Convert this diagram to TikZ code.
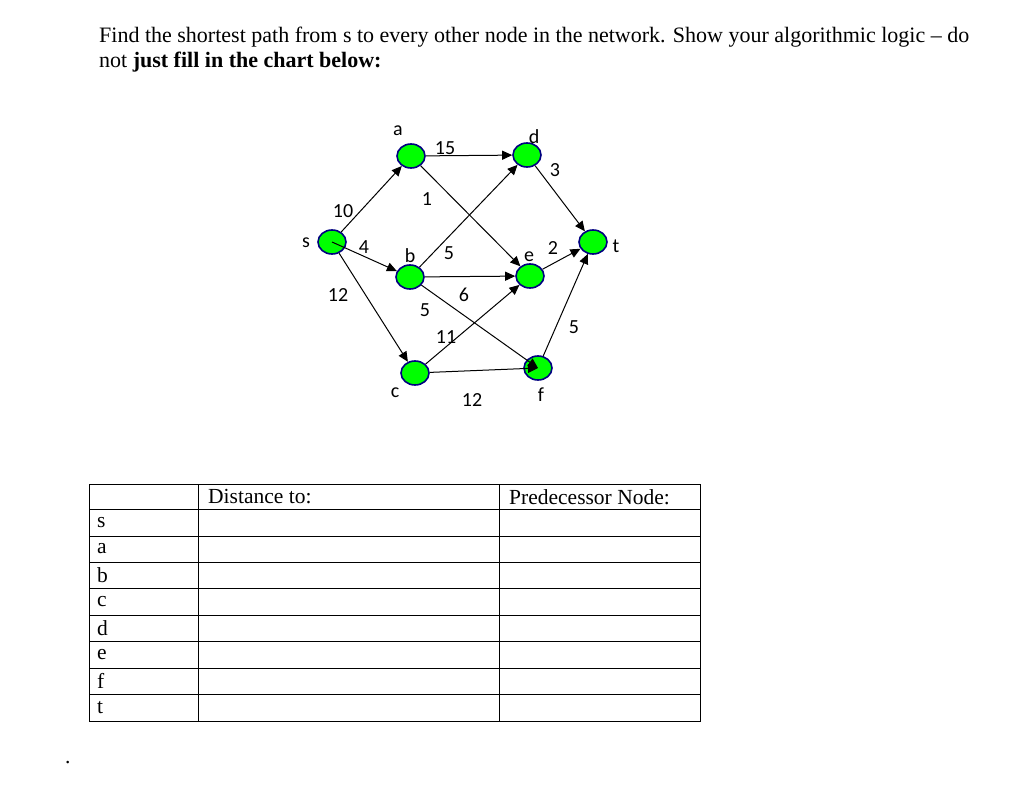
\documentclass[tikz,border=0pt]{standalone}
\usepackage{fontspec}
\setmainfont{Liberation Serif}
\newfontfamily\gf{Carlito}
\usetikzlibrary{arrows.meta,shapes.geometric}
\begin{document}
\begin{tikzpicture}[x=1pt,y=-1pt,
  vtx/.style={ellipse,draw=blue!50!black,fill=green,line width=1.6pt,minimum width=28pt,minimum height=24pt,inner sep=0pt},
  arc/.style={-{Triangle[length=10pt,width=9pt]},line width=1pt},
  wl/.style={font=\gf\fontsize{20}{20}\selectfont,inner sep=0pt},
  cell/.style={font=\fontsize{21.5}{21.5}\selectfont,anchor=west,inner sep=0pt}]
\useasboundingbox (0,0) rectangle (1024,791);
\node[anchor=west,inner sep=0pt,font=\fontsize{22}{22}\selectfont] (t1) at (99,37) {Find the shortest path from s to every other node in the network. Show your algorithmic logic -- do};
\node[anchor=west,inner sep=0pt,font=\fontsize{22}{22}\selectfont] (t2) at (99,62) {not \textbf{just fill in the chart below:}};
\node[vtx] (s) at (332,242) {};
\node[vtx] (a) at (411,156) {};
\node[vtx] (d) at (527,155) {};
\node[vtx] (b) at (410,277) {};
\node[vtx] (e) at (530,276) {};
\node[vtx] (t) at (593,242) {};
\node[vtx] (c) at (415,373) {};
\node[vtx] (f) at (538,368) {};
\draw[arc] (s) -- (a);
\draw[arc] (s.center) -- (b);
\draw[arc] (s) -- (c);
\draw[arc] (a) -- (d);
\draw[arc] (a) -- (e);
\draw[arc] (b) -- (d);
\draw[arc] (b) -- (e);
\draw[arc] (b) -- (f.center);
\draw[arc] (c) -- (e);
\draw[arc] (c) -- (f.center);
\draw[arc] (d) -- (t);
\draw[arc] (e) -- (t);
\draw[arc] (f) -- (t);
\foreach \n/\x/\y/\s in {w1/445/148/15,w2/427/199/1,w3/343/211/10,w4/364/247/4,w5/449/253/5,w6/553/248/2,w7/338/295/12,w8/464/295/6,w9/425/310/5,w10/446/337/11,w11/574/327/5,w12/472/400/12,w13/555/170/3}
  \node[wl] (\n) at (\x,\y) {\s};
\foreach \n/\x/\y/\s in {la/398/131/a,ld/534/137/d,ls/306/243/s,lb/410/256/b,le/529/257/e,lt/616/246/t,lc/395/393/c,lf/541/395/f}
  \node[wl] (\n) at (\x,\y) {\s};
% table
\draw[line width=0.8pt] (89,484) rectangle (700,721);
\foreach \x in {198,499} \draw[line width=0.8pt] (\x,484) -- (\x,721);
\foreach \y in {509,536,562,588,615,641,668,694} \draw[line width=0.8pt] (89,\y) -- (700,\y);
\node[cell] (h1) at (208,497) {Distance to:};
\node[cell] (h2) at (509,497) {Predecessor Node:};
\foreach \n/\y/\s in {rs/523/s,ra/549/a,rb/575/b,rc/602/c,rd/628/d,re/655/e,rf/681/f,rt/708/t}
  \node[cell] (\n) at (97,\y) {\s};
\node[cell] (dot) at (65,763) {.};
\end{tikzpicture}
\end{document}
